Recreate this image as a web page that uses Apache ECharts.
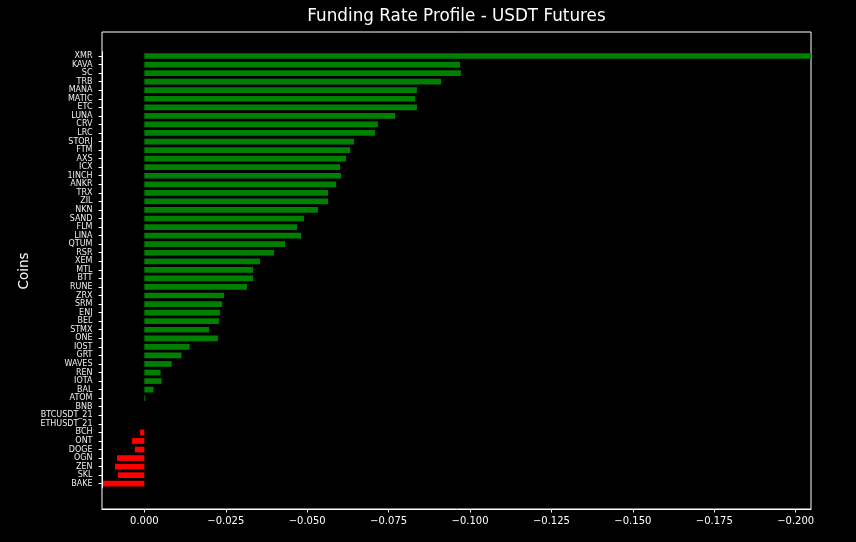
<!DOCTYPE html>
<html>
<head>
<meta charset="utf-8">
<script src="https://cdn.jsdelivr.net/npm/echarts@6/dist/echarts.min.js"></script>
<style>
html,body{margin:0;padding:0;background:#000;}
#chart{width:856px;height:542px;}
</style>
</head>
<body>
<div id="chart"></div>
<script>
const coins = ["XMR","KAVA","SC","TRB","MANA","MATIC","ETC","LUNA","CRV","LRC","STORJ","FTM","AXS","ICX","1INCH","ANKR","TRX","ZIL","NKN","SAND","FLM","LINA","QTUM","RSR","XEM","MTL","BTT","RUNE","ZRX","SRM","ENJ","BEL","STMX","ONE","IOST","GRT","WAVES","REN","IOTA","BAL","ATOM","BNB","BTCUSDT_21","ETHUSDT_21","BCH","ONT","DOGE","OGN","ZEN","SKL","BAKE"];
const fundingRates = [-0.2085,-0.0969,-0.0972,-0.0911,-0.0837,-0.0831,-0.0837,-0.0770,-0.0717,-0.0708,-0.0644,-0.0632,-0.0619,-0.0601,-0.0604,-0.0589,-0.0564,-0.0564,-0.0533,-0.0490,-0.0469,-0.0481,-0.0432,-0.0398,-0.0355,-0.0334,-0.0334,-0.0315,-0.0245,-0.0239,-0.0232,-0.0229,-0.0199,-0.0226,-0.0139,-0.0114,-0.0084,-0.0050,-0.0053,-0.0028,-0.0003,0,0,0,0.0013,0.0038,0.0029,0.0084,0.0090,0.0081,0.0127];
const xTicks = [0,-0.025,-0.05,-0.075,-0.1,-0.125,-0.15,-0.175,-0.2];
const chartTitle = "Funding Rate Profile - USDT Futures";
const yTitle = "Coins";

const X_MIN = -0.2047, X_MAX = 0.013;
const fmt = v => Math.abs(v) < 1e-12 ? "0.000" : (v < 0 ? "\u2212" : "") + Math.abs(v).toFixed(3);

const chart = echarts.init(document.getElementById('chart'), null, {renderer:'canvas'});
chart.setOption({
  backgroundColor: '#000',
  animation: false,
  textStyle: {fontFamily: 'DejaVu Sans'},
  graphic: [
    {type:'text', x:456.5, y:17, style:{text:chartTitle, fill:'#fff', font:'16.8px "DejaVu Sans"', textAlign:'center', textVerticalAlign:'middle'}},
    {type:'text', x:24, y:271, rotation:Math.PI/2, style:{text:yTitle, fill:'#fff', font:'13.5px "DejaVu Sans"', textAlign:'center', textVerticalAlign:'middle'}}
  ],
  grid: [
    {left:102, right:45, top:32, bottom:33, show:true, borderColor:'#fff', borderWidth:1, backgroundColor:'transparent'},
    {left:102, right:45, top:51.7, bottom:54}
  ],
  xAxis: [
    {gridIndex:0, type:'value', min:X_MIN, max:X_MAX, inverse:true,
     axisLine:{show:true, onZero:false, lineStyle:{color:'#fff', width:1}},
     axisTick:{show:true, length:3.5, lineStyle:{color:'#fff'}, customValues:xTicks},
     axisLabel:{show:true, color:'#fff', fontSize:10, margin:7, formatter:fmt, customValues:xTicks, showMinLabel:true, showMaxLabel:true},
     splitLine:{show:false}},
    {gridIndex:1, type:'value', min:X_MIN, max:X_MAX, inverse:true, show:false, splitLine:{show:false}}
  ],
  yAxis: [
    {gridIndex:0, type:'value', show:false, splitLine:{show:false}},
    {gridIndex:1, type:'category', data:coins, inverse:true, position:'left',
     axisLine:{show:true, onZero:false, lineStyle:{color:'#fff'}},
     axisTick:{show:true, alignWithLabel:true, length:3.5, lineStyle:{color:'#fff'}},
     axisLabel:{color:'#eee', fontSize:8, margin:9.5, interval:0},
     splitLine:{show:false}}
  ],
  series: [{
    type:'bar', xAxisIndex:1, yAxisIndex:1, data:fundingRates, barWidth:5.7, clip:true,
    itemStyle:{color: p => p.value > 0 ? '#ff0000' : '#008000'}
  }]
});
</script>
</body>
</html>
